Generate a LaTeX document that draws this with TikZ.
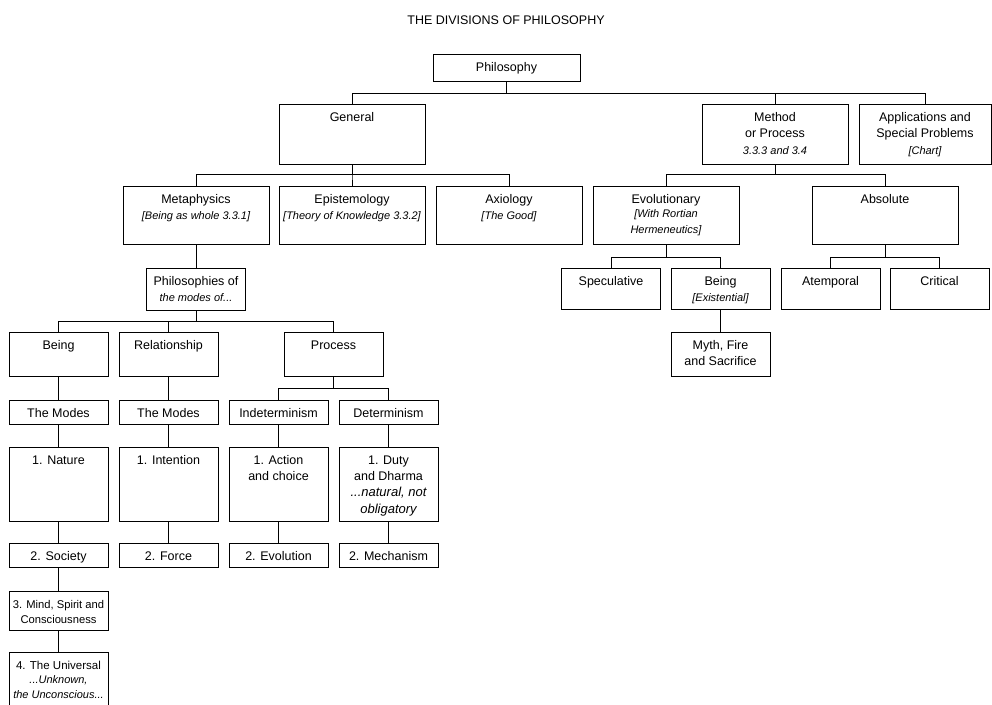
\documentclass[tikz,border=0pt]{standalone}
\usepackage{fontspec}
\setmainfont{Liberation Sans}
\usepackage{tikz}
\pgfdeclarelayer{nodelayer}
\pgfdeclarelayer{edgelayer}
\pgfsetlayers{nodelayer,edgelayer,main}
\newcommand{\boxtext}[3]{\parbox[c][#2pt][t]{#1pt}{\centering\rule{0pt}{17pt}#3}}
\newcommand{\itnote}[1]{{\fontsize{11}{14}\selectfont\itshape #1}}
\tikzset{
    box/.style = {draw, line width=1pt, inner sep=0pt, font=\fontsize{12.5}{16.5}\selectfont},
    title/.style = {inner sep=0pt, font=\fontsize{12.5}{15}\selectfont}
}

\begin{document}
\begin{tikzpicture}[x=1pt, y=-1pt]
    \useasboundingbox (0,0) rectangle (992,704);

    \begin{pgfonlayer}{nodelayer}
        \node [style=title] (0) at (506, 20) {THE DIVISIONS OF PHILOSOPHY};
        \node [style=box] (1) at (506.5, 67.5) {\boxtext{147}{27}{Philosophy}};
        \node [style=box] (2) at (352, 134) {\boxtext{146}{60}{General}};
        \node [style=box] (3) at (775, 134) {\boxtext{146}{60}{Method\\or Process\\\itnote{3.3.3 and 3.4}}};
        \node [style=box] (4) at (925, 134) {\boxtext{132}{60}{Applications and\\Special Problems\\\itnote{[Chart]}}};
        \node [style=box] (5) at (196, 215) {\boxtext{146}{58}{Metaphysics\\\itnote{[Being as whole 3.3.1]}}};
        \node [style=box] (6) at (352, 215) {\boxtext{146}{58}{Epistemology\\\itnote{[Theory of Knowledge 3.3.2]}}};
        \node [style=box] (7) at (509, 215) {\boxtext{146}{58}{Axiology\\\itnote{[The Good]}}};
        \node [style=box] (8) at (666, 215) {\boxtext{146}{58}{Evolutionary\\\itnote{[With Rortian\\Hermeneutics]}}};
        \node [style=box] (9) at (885, 215) {\boxtext{146}{58}{Absolute}};
        \node [style=box] (10) at (611, 288.5) {\boxtext{99}{41}{Speculative}};
        \node [style=box] (11) at (720.5, 288.5) {\boxtext{99}{41}{Being\\\itnote{[Existential]}}};
        \node [style=box] (12) at (830.5, 288.5) {\boxtext{99}{41}{Atemporal}};
        \node [style=box] (13) at (939.5, 288.5) {\boxtext{99}{41}{Critical}};
        \node [style=box] (14) at (720.5, 354) {\boxtext{99}{44}{Myth, Fire\\and Sacrifice}};
        \node [style=box] (15) at (196, 289) {\boxtext{99}{42}{Philosophies of\\\itnote{the modes of...}}};
        \node [style=box] (16) at (58.5, 354) {\boxtext{99}{44}{Being}};
        \node [style=box] (17) at (168.5, 354) {\boxtext{99}{44}{Relationship}};
        \node [style=box] (18) at (333.5, 354) {\boxtext{99}{44}{Process}};
        \node [style=box] (19) at (58.5, 412) {\boxtext{99}{24}{The Modes}};
        \node [style=box] (20) at (168.5, 412) {\boxtext{99}{24}{The Modes}};
        \node [style=box] (21) at (278.5, 412) {\boxtext{99}{24}{Indeterminism}};
        \node [style=box] (22) at (388.5, 412) {\boxtext{99}{24}{Determinism}};
        \node [style=box] (23) at (58.5, 484) {\boxtext{99}{74}{1. Nature}};
        \node [style=box] (24) at (168.5, 484) {\boxtext{99}{74}{1. Intention}};
        \node [style=box] (25) at (278.5, 484) {\boxtext{99}{74}{1. Action\\and choice}};
        \node [style=box] (26) at (388.5, 484) {\boxtext{99}{74}{1. Duty\\and Dharma\\{\fontsize{13}{16}\selectfont\itshape ...natural, not\\obligatory}}};
        \node [style=box] (27) at (58.5, 555) {\boxtext{99}{24}{2. Society}};
        \node [style=box] (28) at (168.5, 555) {\boxtext{99}{24}{2. Force}};
        \node [style=box] (29) at (278.5, 555) {\boxtext{99}{24}{2. Evolution}};
        \node [style=box] (30) at (388.5, 555) {\boxtext{99}{24}{2. Mechanism}};
        \node [style=box, font=\fontsize{11.2}{15}\selectfont] (31) at (58.5, 610.5) {\boxtext{99}{39}{3. Mind, Spirit and\\Consciousness}};
        \node [style=box, font=\fontsize{11.5}{15}\selectfont] (32) at (58.5, 684) {\boxtext{99}{64}{4. The Universal\\\itnote{...Unknown,\\the Unconscious...}}};
    \end{pgfonlayer}
    \begin{pgfonlayer}{edgelayer}
        \foreach \a/\b/\h in {1/2/12, 1/3/12, 1/4/12, 2/5/10, 2/6/10, 2/7/10, 3/8/10, 3/9/10, 8/10/13, 8/11/13, 9/12/13, 9/13/13, 15/16/11, 15/17/11, 15/18/11, 18/21/12, 18/22/12}
            \draw [line width=1pt] (\a.south) -- ++(0,\h) -| (\b.north);
        \foreach \a/\b in {5/15, 11/14, 16/19, 19/23, 23/27, 27/31, 31/32, 17/20, 20/24, 24/28, 21/25, 25/29, 22/26, 26/30}
            \draw [line width=1pt] (\a.south) to (\b.north);
    \end{pgfonlayer}
\end{tikzpicture}
\end{document}
